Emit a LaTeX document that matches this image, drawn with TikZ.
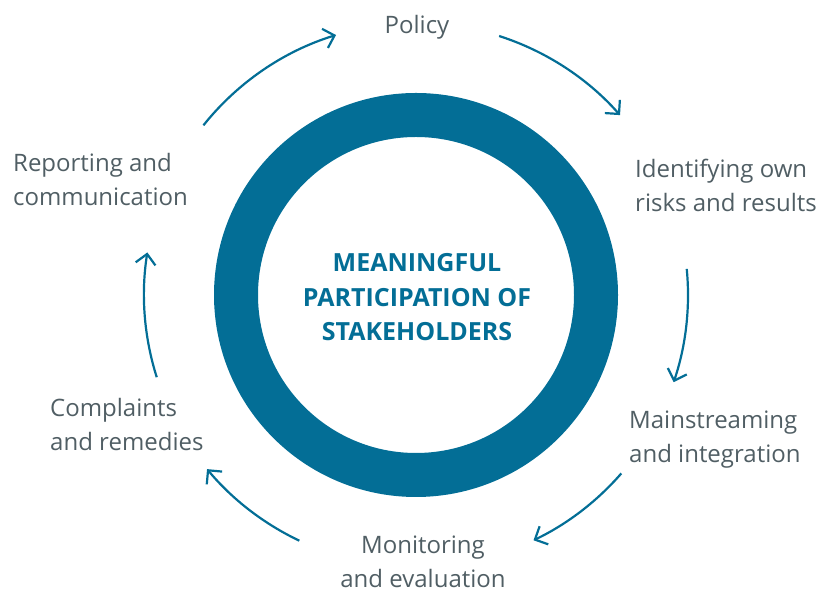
\documentclass[tikz,border=0pt]{standalone}
\usepackage{fontspec}
\setmainfont{Open Sans}
\usetikzlibrary{arrows.meta}
\definecolor{ringblue}{RGB}{3,110,150}
\definecolor{labelgray}{RGB}{80,94,100}
\begin{document}
\begin{tikzpicture}[x=1pt,y=1pt,
  lbl/.style={font=\fontsize{24}{34}\selectfont, text=labelgray, inner sep=0pt},
  cyc/.style={draw=ringblue, line width=2.2pt, -{Straight Barb[length=10pt,width=20pt,line width=2.2pt]}}]
\useasboundingbox (0,0) rectangle (819,593);
\coordinate (c) at (416,298);
\draw[ringblue, line width=44pt] (c) circle[radius=180];
\node[inner sep=0pt, anchor=base, align=center, text=ringblue,
  font=\fontsize{25}{34.5}\selectfont\bfseries] (core) at (417,252)
  {MEANINGFUL\\PARTICIPATION OF\\STAKEHOLDERS};
\node[lbl, anchor=base] (policy) at (417,559) {Policy};
\node[lbl, anchor=base west, align=left] (ident) at (635,381) {Identifying own\\risks and results};
\node[lbl, anchor=base west, align=left] (main) at (629,130) {Mainstreaming\\and integration};
\node[lbl, anchor=base, align=center] (monit) at (423,5) {Monitoring\\and evaluation};
\node[lbl, anchor=base west, align=left] (compl) at (50,142) {Complaints\\and remedies};
\node[lbl, anchor=base west, align=left] (report) at (13,387) {Reporting and\\communication};
\draw[cyc] (c) ++(141.4:272) coordinate (a1) arc[start angle=141.4, end angle=107.1, radius=272];
\draw[cyc] (c) ++(72.2:272) coordinate (a2) arc[start angle=72.2, end angle=41.4, radius=272];
\draw[cyc] (c) ++(5.5:272) coordinate (a3) arc[start angle=5.5, end angle=-18.7, radius=272];
\draw[cyc] (c) ++(-41:272) coordinate (a4) arc[start angle=-41, end angle=-64.4, radius=272];
\draw[cyc] (c) ++(-115.4:272) coordinate (a5) arc[start angle=-115.4, end angle=-140.2, radius=272];
\draw[cyc] (c) ++(-162.4:272) coordinate (a6) arc[start angle=-162.4, end angle=-189, radius=272];
\end{tikzpicture}
\end{document}
